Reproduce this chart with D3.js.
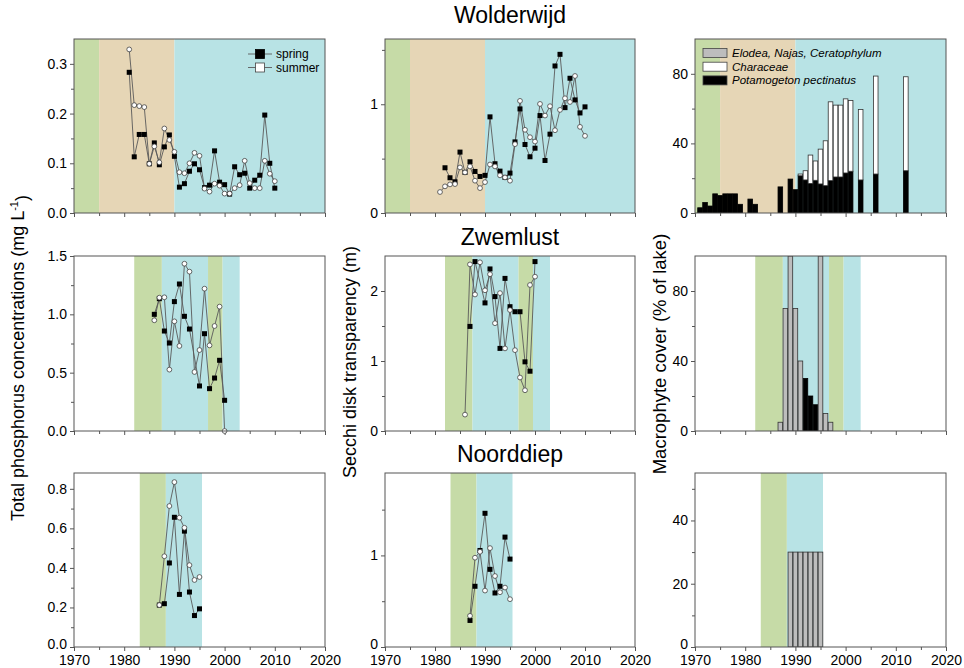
<!DOCTYPE html>
<html><head><meta charset="utf-8">
<script src="https://cdn.jsdelivr.net/npm/d3@7/dist/d3.min.js"></script>
<style>
body{margin:0;background:#fff}
svg{display:block;font-family:"Liberation Sans",Arial,Helvetica,sans-serif}
</style>
</head><body>
<svg id="chart" width="964" height="668"></svg>
<script>
// ---------------- DATA ----------------
const lakes = ["Wolderwijd", "Zwemlust", "Noorddiep"];
const xTicksMajor = [1970, 1980, 1990, 2000, 2010, 2020];
const xTicksMinor = [1975, 1985, 1995, 2005, 2015];

// Background phases (green = clear/vegetated, tan = turbid, blue = restoration)
const bandsWolderwijd = [[1970, 1975, "green"], [1975, 1990, "tan"], [1990, 2020, "blue"]];
const bandsZwemlust = [[1982, 1987.5, "green"], [1987.5, 1996.7, "blue"], [1996.7, 1999.6, "green"], [1999.6, 2003, "blue"]];
const bandsNoorddiep = [[1983.1, 1988.3, "green"], [1988.3, 1995.5, "blue"]];

// Wolderwijd
const wolYears = [1981,1982,1983,1984,1985,1986,1987,1988,1989,1990,1991,1992,1993,1994,1995,1996,1997,1998,1999,2000,2001,2002,2003,2004,2005,2006,2007,2008,2009,2010];
const wolTPSpring = [0.283,0.113,0.158,0.158,0.099,0.141,0.097,0.133,0.157,0.114,0.052,0.059,0.084,0.099,0.087,0.051,0.056,0.125,0.062,0.057,0.038,0.093,0.077,0.080,0.050,0.066,0.076,0.197,0.100,0.050];
const wolTPSummer = [0.329,0.217,0.215,0.213,0.099,0.134,0.102,0.170,0.147,0.123,0.082,0.080,0.100,0.121,0.115,0.049,0.043,0.059,0.055,0.039,0.039,0.050,0.056,0.105,0.060,0.050,0.050,0.105,0.079,0.064];
const wolSecchiSpring = [null,0.416,0.324,0.287,0.560,0.373,0.471,0.382,0.336,0.346,0.884,0.453,0.385,0.327,0.367,0.654,0.957,0.630,0.517,0.596,0.896,0.483,0.725,1.352,1.459,0.969,1.239,1.040,0.920,0.976];
const wolSecchiSummer = [0.193,0.245,0.263,0.266,0.419,0.373,0.428,0.297,0.229,0.284,0.446,0.428,0.346,0.327,0.297,0.633,1.031,0.765,0.697,0.657,1.003,0.896,0.982,0.761,0.948,1.055,1.021,1.260,0.792,0.709];
const wolMacroYears = [1971,1972,1973,1974,1975,1976,1977,1978,1979,1981,1982,1987,1989,1990,1991,1992,1993,1994,1995,1996,1997,1998,1999,2000,2001,2003,2006,2012];
const wolPotamogeton = [3,6,4,11,10,11,11,11,5,8,5,15,19.5,13.4,21.4,19,17,18.8,16.7,15.7,18.6,20.7,20.7,23,24,19,22.4,24.3];
const wolCharaceae = [0,0,0,0,0,0,0,0,0,0,0,0,0,0,1,5.3,16.3,11.1,20,25.8,45.3,41.3,41.3,42.6,40.7,40.5,56.3,54];
const wolElodea = [0,0,0,0,0,0,0,0,0,0,0,0,0,0,0,0,0,0,0,0,0,0,0,0,0,0,0,0];

// Zwemlust
const zweYears = [1986,1987,1988,1989,1990,1991,1992,1993,1994,1995,1996,1997,1998,1999,2000];
const zweTPSpring = [1.000,1.134,0.857,0.754,1.109,1.260,0.983,0.874,null,0.386,0.834,0.363,0.454,0.606,0.263];
const zweTPSummer = [0.949,1.143,1.146,0.526,0.940,0.729,1.434,1.366,0.506,0.694,1.220,0.734,0.900,1.066,0.000];
const zweSecchiSpring = [null,1.494,2.420,null,1.830,2.315,1.920,1.180,2.180,1.776,1.704,1.704,0.988,0.854,2.420];
const zweSecchiSummer = [0.234,2.380,1.950,2.410,2.010,2.240,1.540,1.970,1.180,1.728,1.155,0.764,0.582,2.086,2.205];
const zweMacroYears = [1987,1988,1989,1990,1991,1992,1993,1994,1995,1996,1997];
const zwePotamogeton = [0,0,0,0,0,30,20,15,0,0,0];
const zweCharaceae = [0,0,0,0,0,0,0,0,0,0,0];
const zweElodea = [5,70,100,70,40,0,0,0,100,10,5];

// Noorddiep
const nooYears = [1987,1988,1989,1990,1991,1992,1993,1994,1995];
const nooTPSpring = [0.212,0.219,0.425,0.656,0.266,0.586,0.278,0.159,0.193];
const nooTPSummer = [0.212,0.459,0.713,0.834,0.654,0.603,0.414,0.339,0.354];
const nooSecchiSpring = [0.290,0.663,1.054,1.460,0.848,0.590,0.663,1.200,0.960];
const nooSecchiSummer = [0.340,0.975,1.040,0.616,1.080,0.775,0.598,0.649,0.522];
const nooMacroYears = [1989,1990,1991,1992,1993,1994,1995];
const nooPotamogeton = [0,0,0,0,0,0,0];
const nooCharaceae = [0,0,0,0,0,0,0];
const nooElodea = [30,30,30,30,30,30,30];

// Axis ranges and ticks (per row)
const tpDomains = [[0, 0.35], [0, 1.5], [0, 0.88]];
const tpMajor = [[0, 0.1, 0.2, 0.3], [0, 0.5, 1.0, 1.5], [0, 0.2, 0.4, 0.6, 0.8]];
const tpMinor = [[0.05, 0.15, 0.25], [0.25, 0.75, 1.25], [0.1, 0.3, 0.5, 0.7]];
const secDomains = [[0, 1.6], [0, 2.5], [0, 1.9]];
const secMajor = [[0, 1], [0, 1, 2], [0, 1]];
const secMinor = [[0.5, 1.5], [0.5, 1.5], [0.5, 1.5]];
const macDomains = [[0, 100], [0, 100], [0, 55]];
const macMajor = [[0, 40, 80], [0, 40, 80], [0, 20, 40]];
const macMinor = [[20, 60], [20, 60], [10, 30, 50]];

const seriesNames = ["spring", "summer"];
const speciesNames = ["Elodea, Najas, Ceratophylum", "Characeae", "Potamogeton pectinatus"];

// ---------------- LAYOUT / STYLE ----------------
const bandColor = {green: "#c6dba7", tan: "#e6d6b6", blue: "#b8e3e5"};
const speciesColor = {pot: "#000000", cha: "#ffffff", elo: "#bdbdbd"};
const cols = [[74, 325], [385, 635], [695, 946]];
const rows = [[39, 213], [256, 431], [473, 647]];
const axisColor = "#555";

const svg = d3.select("#chart");

const lakeData = [
  {bands: bandsWolderwijd, years: wolYears, tp: [wolTPSpring, wolTPSummer], sec: [wolSecchiSpring, wolSecchiSummer],
   myears: wolMacroYears, pot: wolPotamogeton, cha: wolCharaceae, elo: wolElodea},
  {bands: bandsZwemlust, years: zweYears, tp: [zweTPSpring, zweTPSummer], sec: [zweSecchiSpring, zweSecchiSummer],
   myears: zweMacroYears, pot: zwePotamogeton, cha: zweCharaceae, elo: zweElodea},
  {bands: bandsNoorddiep, years: nooYears, tp: [nooTPSpring, nooTPSummer], sec: [nooSecchiSpring, nooSecchiSummer],
   myears: nooMacroYears, pot: nooPotamogeton, cha: nooCharaceae, elo: nooElodea}
];

let clipId = 0;

function panel(ri, ci, domain, major, minor, fmt) {
  const [x0, x1] = cols[ci], [y0, y1] = rows[ri];
  const x = d3.scaleLinear().domain([1970, 2020]).range([x0, x1]);
  const y = d3.scaleLinear().domain(domain).range([y1, y0]);
  const g = svg.append("g");
  const id = "clip" + (clipId++);
  svg.append("clipPath").attr("id", id).append("rect")
    .attr("x", x0).attr("y", y0).attr("width", x1 - x0).attr("height", y1 - y0);
  const bg = g.append("g").attr("clip-path", `url(#${id})`);
  const content = g.append("g").attr("clip-path", `url(#${id})`);
  // bands
  bg.selectAll("rect").data(lakeData[ri].bands).join("rect")
    .attr("x", d => x(d[0])).attr("width", d => x(d[1]) - x(d[0]))
    .attr("y", y0).attr("height", y1 - y0)
    .attr("fill", d => bandColor[d[2]]);
  // axes
  const showX = ri === 2;
  g.append("g").attr("transform", `translate(0,${y1})`)
    .call(d3.axisBottom(x).tickValues(xTicksMajor).tickSize(4).tickPadding(4)
      .tickFormat(showX ? d3.format("d") : () => ""));
  g.append("g").attr("transform", `translate(0,${y1})`)
    .call(d3.axisBottom(x).tickValues(xTicksMinor).tickSize(3).tickFormat(() => ""));
  const ya = g.append("g").attr("transform", `translate(${x0},0)`)
    .call(d3.axisLeft(y).tickValues(major).tickSize(4).tickPadding(3).tickFormat(fmt));
  g.append("g").attr("transform", `translate(${x0},0)`)
    .call(d3.axisLeft(y).tickValues(minor).tickSize(3).tickFormat(() => ""));
  g.selectAll(".domain").remove();
  g.selectAll(".tick line").attr("stroke", axisColor);
  g.selectAll(".tick text").attr("font-size", 14).attr("fill", "#000")
    .attr("font-family", '"Liberation Sans", Arial, sans-serif');
  if (showX) {
    // the bottom "0" label sits just above the year labels, as in the original
    ya.selectAll(".tick text").filter(d => d === 0).attr("dy", "0.12em");
  }
  return {g, content, x, y, x0, x1, y0, y1};
}

function frame(p) {
  p.g.append("rect").attr("x", p.x0).attr("y", p.y0)
    .attr("width", p.x1 - p.x0).attr("height", p.y1 - p.y0)
    .attr("fill", "none").attr("stroke", axisColor).attr("stroke-width", 1);
}

function linePanel(p, years, series) {
  const line = d3.line().x(d => p.x(d[0])).y(d => p.y(d[1]));
  series.forEach((vals) => {
    const pts = years.map((yr, i) => [yr, vals[i]]).filter(d => d[1] != null);
    p.content.append("path").attr("d", line(pts)).attr("fill", "none")
      .attr("stroke", "#5a5a5a").attr("stroke-width", 0.9);
  });
  series.forEach((vals, si) => {
    const pts = years.map((yr, i) => [yr, vals[i]]).filter(d => d[1] != null);
    if (si === 0) {
      p.g.selectAll(null).data(pts).join("rect")
        .attr("x", d => p.x(d[0]) - 2.5).attr("y", d => p.y(d[1]) - 2.5)
        .attr("width", 5).attr("height", 5).attr("fill", "#000");
    } else {
      p.g.selectAll(null).data(pts).join("circle")
        .attr("cx", d => p.x(d[0])).attr("cy", d => p.y(d[1])).attr("r", 2.4)
        .attr("fill", "#fff").attr("stroke", "#444").attr("stroke-width", 0.8);
    }
  });
}

function barPanel(p, ld) {
  const table = ld.myears.map((yr, i) => ({year: yr, pot: ld.pot[i], cha: ld.cha[i], elo: ld.elo[i]}));
  const stack = d3.stack().keys(["pot", "cha", "elo"])(table);
  const half = 0.46;
  stack.forEach(layer => {
    p.content.selectAll(null).data(layer.filter(d => d[1] - d[0] > 0)).join("rect")
      .attr("x", d => p.x(d.data.year - half))
      .attr("width", d => p.x(d.data.year + half) - p.x(d.data.year - half))
      .attr("y", d => p.y(d[1]))
      .attr("height", d => p.y(d[0]) - p.y(d[1]))
      .attr("fill", speciesColor[layer.key])
      .attr("stroke", layer.key === "pot" ? "#000" : "#333")
      .attr("stroke-width", 0.8);
  });
}

const fmt1 = d3.format(".1f");
const fmtInt = d3.format("d");

rows.forEach((r, ri) => {
  const ld = lakeData[ri];
  const p1 = panel(ri, 0, tpDomains[ri], tpMajor[ri], tpMinor[ri], fmt1);
  linePanel(p1, ld.years, ld.tp);
  frame(p1);
  const p2 = panel(ri, 1, secDomains[ri], secMajor[ri], secMinor[ri], fmtInt);
  linePanel(p2, ld.years, ld.sec);
  frame(p2);
  const p3 = panel(ri, 2, macDomains[ri], macMajor[ri], macMinor[ri], fmtInt);
  barPanel(p3, ld);
  frame(p3);
});

// Titles
const titleY = [23, 245, 462];
lakes.forEach((name, i) => {
  svg.append("text").attr("x", 510).attr("y", titleY[i]).attr("text-anchor", "middle")
    .attr("font-size", 23).text(name);
});

// Y axis titles
const tpLab = svg.append("text").attr("transform", "translate(18,358) rotate(-90)")
  .attr("text-anchor", "middle").attr("dy", "0.35em").attr("font-size", 18);
tpLab.append("tspan").text("Total phosphorus concentrations (mg L");
tpLab.append("tspan").attr("dy", "-0.55em").attr("font-size", 11).text("-1");
tpLab.append("tspan").attr("dy", "0.55em").text(")");
svg.append("text").attr("transform", "translate(350,362) rotate(-90)")
  .attr("text-anchor", "middle").attr("dy", "0.35em").attr("font-size", 18)
  .text("Secchi disk transparency (m)");
svg.append("text").attr("transform", "translate(660,354) rotate(-90)")
  .attr("text-anchor", "middle").attr("dy", "0.35em").attr("font-size", 18.5)
  .text("Macrophyte cover (% of lake)");

// Legend: spring / summer (top-left panel)
const leg1 = svg.append("g");
seriesNames.forEach((s, i) => {
  const cy = 54 + i * 13.5;
  leg1.append("line").attr("x1", 248).attr("x2", 272).attr("y1", cy).attr("y2", cy)
    .attr("stroke", "#5a5a5a").attr("stroke-width", 0.9);
  leg1.append("rect").attr("x", 255.5).attr("y", cy - 4.5).attr("width", 9).attr("height", 9)
    .attr("fill", i === 0 ? "#000" : "#fff").attr("stroke", i === 0 ? "#000" : "#444").attr("stroke-width", 0.8);
  leg1.append("text").attr("x", 276).attr("y", cy + 4).attr("font-size", 12).text(s);
});

// Legend: species (top-right panel)
const leg2 = svg.append("g");
const legKeys = ["elo", "cha", "pot"];
speciesNames.forEach((s, i) => {
  const cy = 53 + i * 13.7;
  leg2.append("rect").attr("x", 703).attr("y", cy - 4.5).attr("width", 24).attr("height", 9)
    .attr("fill", speciesColor[legKeys[i]]).attr("stroke", "#444").attr("stroke-width", 0.8);
  leg2.append("text").attr("x", 732).attr("y", cy + 4).attr("font-size", 11.5)
    .attr("font-style", "italic").text(s);
});
</script>
</body></html>
